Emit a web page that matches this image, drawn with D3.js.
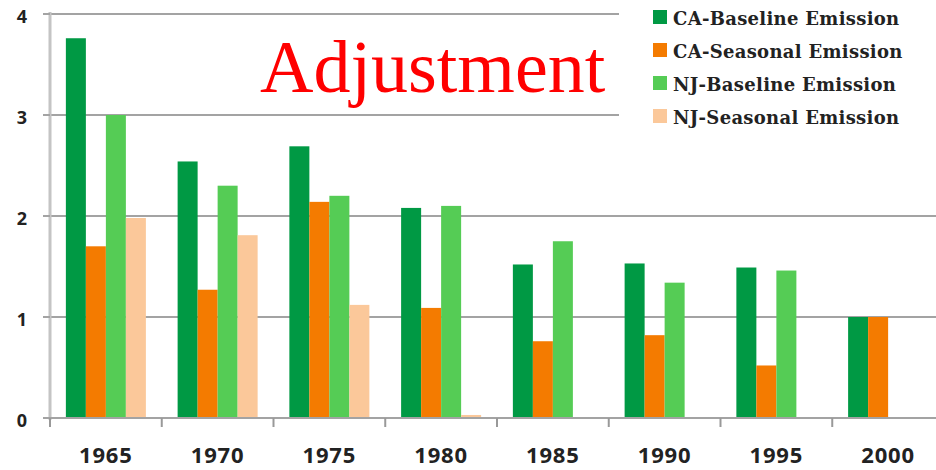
<!DOCTYPE html>
<html><head><meta charset="utf-8">
<script src="https://cdn.jsdelivr.net/npm/d3@7"></script>
<style>html,body{margin:0;padding:0;background:#fff;}svg{display:block;}</style>
</head><body>
<svg id="chart" width="936" height="470"></svg>
<script>
const years = ["1965","1970","1975","1980","1985","1990","1995","2000"];
const seriesNames = ["CA-Baseline Emission","CA-Seasonal Emission","NJ-Baseline Emission","NJ-Seasonal Emission"];
const caBaseline = [3.76, 2.54, 2.69, 2.08, 1.52, 1.53, 1.49, 1.0];
const caSeasonal = [1.70, 1.27, 2.14, 1.09, 0.76, 0.82, 0.52, 1.0];
const njBaseline = [3.00, 2.30, 2.20, 2.10, 1.75, 1.34, 1.46, 0];
const njSeasonal = [1.98, 1.81, 1.12, 0.03, 0, 0, 0, 0];
const yTicks = [0, 1, 2, 3, 4];
const colors = ["#009944", "#F47B00", "#55CC55", "#FBC89A"];
const title = "Adjustment";

const allSeries = [caBaseline, caSeasonal, njBaseline, njSeasonal];
const svg = d3.select("#chart");

const x0 = d3.scaleBand().domain(years).range([50, 944]).paddingInner(0.284).paddingOuter(0.142);
const x1 = d3.scaleBand().domain(seriesNames).range([0, x0.bandwidth()]);
const y = d3.scaleLinear().domain([0, 4]).range([418, 14]);

// gridlines
svg.append("g").selectAll("line").data(yTicks.filter(d => d > 0)).join("line")
  .attr("x1", 43).attr("x2", 936)
  .attr("y1", d => y(d)).attr("y2", d => y(d))
  .attr("stroke", "#a3a3a3").attr("stroke-width", 2);

// legend background
svg.append("rect").attr("x", 619).attr("y", 0).attr("width", 317).attr("height", 132).attr("fill", "#fff");

// bars
const groups = svg.append("g").selectAll("g").data(years).join("g")
  .attr("transform", d => `translate(${x0(d)},0)`);
groups.selectAll("rect").data((d, i) => seriesNames.map((s, j) => ({s, v: allSeries[j][i], c: colors[j]})))
  .join("rect")
  .attr("x", d => x1(d.s)).attr("width", x1.bandwidth())
  .attr("y", d => y(d.v)).attr("height", d => y(0) - y(d.v))
  .attr("fill", d => d.c);

// y axis line
svg.append("line").attr("x1", 50).attr("x2", 50).attr("y1", 12).attr("y2", 420)
  .attr("stroke", "#c4c4c4").attr("stroke-width", 3);
// y ticks
svg.append("g").selectAll("line").data(yTicks).join("line")
  .attr("x1", 43).attr("x2", 50).attr("y1", d => y(d)).attr("y2", d => y(d))
  .attr("stroke", "#a3a3a3").attr("stroke-width", 2);
svg.append("g").selectAll("text").data(yTicks).join("text")
  .attr("x", 27).attr("y", d => y(d) + 4)
  .attr("text-anchor", "end").attr("dominant-baseline", "middle")
  .attr("font-family", "'Open Sans', sans-serif").attr("font-weight", "bold")
  .attr("font-size", 18).attr("fill", "#222")
  .text(d => d);

// x axis
svg.append("line").attr("x1", 43).attr("x2", 936).attr("y1", y(0)).attr("y2", y(0))
  .attr("stroke", "#a3a3a3").attr("stroke-width", 2);
const boundaries = years.map(d => x0(d) - x0.step() * x0.paddingOuter());
svg.append("g").selectAll("line").data(boundaries).join("line")
  .attr("x1", d => d).attr("x2", d => d).attr("y1", y(0)).attr("y2", y(0) + 9)
  .attr("stroke", "#999").attr("stroke-width", 2);
svg.append("g").selectAll("text").data(years).join("text")
  .attr("x", d => x0(d) + x0.bandwidth() / 2).attr("y", 463)
  .attr("text-anchor", "middle")
  .attr("font-family", "'Open Sans', sans-serif").attr("font-weight", "bold")
  .attr("font-size", 22).attr("letter-spacing", 0.8).attr("fill", "#222")
  .text(d => d);

// title
svg.append("text").attr("x", 260).attr("y", 92)
  .attr("font-family", "'Liberation Serif', 'Times New Roman', serif")
  .attr("font-size", 74).attr("fill", "#ff0000")
  .text(title);

// legend
const lg = svg.append("g").selectAll("g").data(seriesNames).join("g")
  .attr("transform", (d, i) => `translate(653,${17 + i * 33})`);
lg.append("rect").attr("x", 0).attr("y", -7).attr("width", 14).attr("height", 14)
  .attr("fill", (d, i) => colors[i]);
lg.append("text").attr("x", 20).attr("y", 1).attr("dominant-baseline", "central")
  .attr("font-family", "'DejaVu Serif', serif").attr("font-weight", "bold")
  .attr("font-size", 18).attr("letter-spacing", 0.3).attr("fill", "#222")
  .text(d => d);
</script>
</body></html>
